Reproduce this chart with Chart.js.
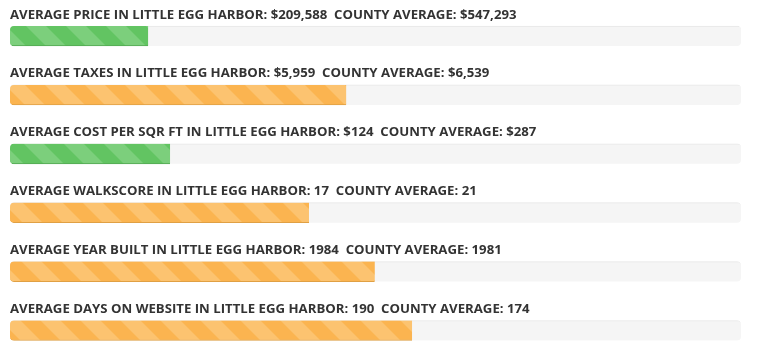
<!DOCTYPE html>
<html>
<head>
<meta charset="utf-8">
<script src="https://cdn.jsdelivr.net/npm/chart.js@4/dist/chart.umd.min.js"></script>
<style>
  html, body { margin: 0; padding: 0; background: #ffffff; }
  #wrap { width: 757px; height: 357px; position: relative; }
</style>
</head>
<body>
<div id="wrap"><canvas id="c" width="757" height="357"></canvas></div>
<script>
// ---- data ----
const metrics = ['PRICE', 'TAXES', 'COST PER SQR FT', 'WALKSCORE', 'YEAR BUILT', 'DAYS ON WEBSITE'];
const localValues = ['$209,588', '$5,959', '$124', '17', '1984', '190'];
const countyValues = ['$547,293', '$6,539', '$287', '21', '1981', '174'];
const barPercent = [18.9, 46.0, 21.9, 40.9, 49.9, 55.0];
const barKinds = ['green', 'orange', 'green', 'orange', 'orange', 'orange'];
const trackValues = [100, 100, 100, 100, 100, 100];

function stripePattern(base, light) {
  const t = document.createElement('canvas');
  t.width = 40; t.height = 40;
  const g = t.getContext('2d');
  g.fillStyle = base; g.fillRect(0, 0, 40, 40);
  g.fillStyle = light;
  for (let k = -2; k <= 1; k++) {
    const x0 = k * 40;
    g.beginPath();
    g.moveTo(x0, 0); g.lineTo(x0 + 20, 0); g.lineTo(x0 + 60, 40); g.lineTo(x0 + 40, 40);
    g.closePath(); g.fill();
  }
  return g.createPattern(t, 'repeat');
}
const ctx0 = document.getElementById('c').getContext('2d');
const palette = {
  green: { fill: stripePattern('#62c462', '#7ccf7c'), edge: '#52a852' },
  orange: { fill: stripePattern('#fbb450', '#fcc370'), edge: '#e0a044' }
};

function titleText(i) {
  return 'AVERAGE ' + metrics[i] + ' IN LITTLE EGG HARBOR: ' + localValues[i] + '  COUNTY AVERAGE: ' + countyValues[i];
}

const titlePlugin = {
  id: 'titles',
  afterDatasetsDraw(chart) {
    const ctx = chart.ctx;
    const ys = chart.scales.y;
    const xs = chart.scales.x;
    ctx.save();
    ctx.font = 'bold 12px "Open Sans"';
    const w0 = ctx.measureText(titleText(0)).width;
    const size = 12 * 507 / w0;
    ctx.font = 'bold ' + size.toFixed(2) + 'px "Open Sans"';
    ctx.fillStyle = '#333333';
    ctx.textBaseline = 'alphabetic';
    ctx.textAlign = 'left';
    metrics.forEach((m, i) => {
      const y = ys.getPixelForValue(i) - 10 - 7.5;
      ctx.fillText(titleText(i), xs.left, y);
    });
    ctx.restore();
  }
};

new Chart(ctx0, {
  type: 'bar',
  data: {
    labels: metrics,
    datasets: [
      {
        data: barPercent,
        backgroundColor: barKinds.map(k => palette[k].fill),
        borderColor: barKinds.map(k => palette[k].edge),
        borderWidth: { top: 0, left: 0, right: 0, bottom: 1 },
        borderSkipped: false,
        borderRadius: { topLeft: 4, bottomLeft: 4, topRight: 0, bottomRight: 0 },
        barThickness: 20,
        grouped: false,
        order: 0,
        clip: false
      },
      {
        data: trackValues,
        backgroundColor: '#f5f5f5',
        borderColor: '#e6e6e6',
        borderWidth: { top: 1, left: 0, right: 0, bottom: 0 },
        borderSkipped: false,
        borderRadius: 4,
        barThickness: 20,
        grouped: false,
        order: 1,
        clip: false
      }
    ]
  },
  options: {
    indexAxis: 'y',
    responsive: false,
    animation: false,
    layout: { padding: { left: 10, right: 16, top: 36, bottom: 26.5 } },
    plugins: { legend: { display: false }, tooltip: { enabled: false }, title: { display: false } },
    scales: {
      x: { display: false, min: 0, max: 100 },
      y: { display: false, offset: false }
    }
  },
  plugins: [titlePlugin]
});
</script>
</body>
</html>
